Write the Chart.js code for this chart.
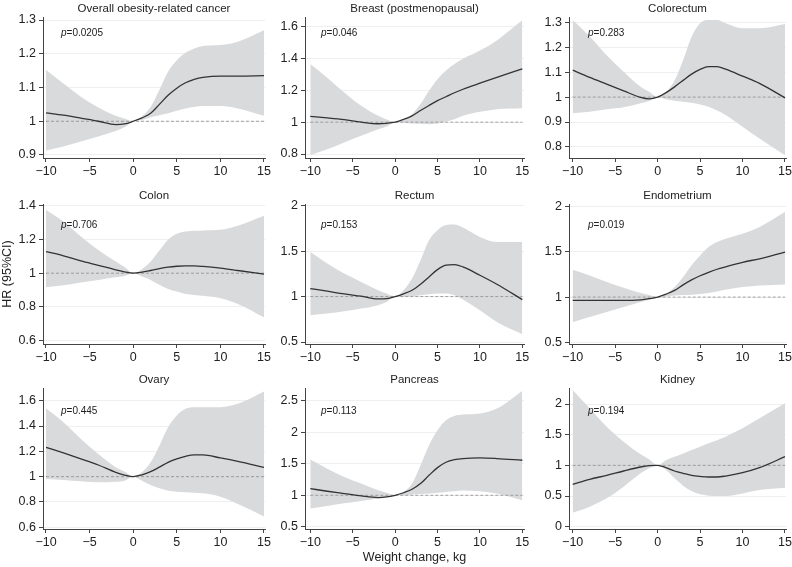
<!DOCTYPE html>
<html>
<head>
<meta charset="utf-8">
<script src="https://cdn.jsdelivr.net/npm/chart.js@4.4.1/dist/chart.umd.min.js"></script>
<style>
  body { margin: 0; background: #fff; width: 792px; height: 567px; position: relative; overflow: hidden; }
  canvas { position: absolute; }
</style>
</head>
<body>
<script>
// x values (weight change, kg) shared by every panel
const weightChange = [-10, -8, -6, -4, -2, -1, 0, 1, 2, 3, 4, 5, 6, 7, 8, 10, 12, 15];
const xTickValues = [-10, -5, 0, 5, 10, 15];

const cancerSites = ['Overall obesity-related cancer', 'Breast (postmenopausal)', 'Colorectum',
  'Colon', 'Rectum', 'Endometrium', 'Ovary', 'Pancreas', 'Kidney'];
const pValues = ['0.0205', '0.046', '0.283', '0.706', '0.153', '0.019', '0.445', '0.113', '0.194'];
const yTickValues = [
  [0.9, 1, 1.1, 1.2, 1.3], [0.8, 1, 1.2, 1.4, 1.6], [0.8, 0.9, 1, 1.1, 1.2, 1.3],
  [0.6, 0.8, 1, 1.2, 1.4], [0.5, 1, 1.5, 2], [0.5, 1, 1.5, 2],
  [0.6, 0.8, 1, 1.2, 1.4, 1.6], [0.5, 1, 1.5, 2, 2.5], [0, 0.5, 1, 1.5, 2]
];

// HR and 95% CI per site
const overallHR    = [1.025, 1.018, 1.009, 1.0, 0.99, 0.992, 1.0, 1.01, 1.024, 1.05, 1.077, 1.098, 1.114, 1.124, 1.13, 1.134, 1.134, 1.135];
const overallLower = [0.913, 0.925, 0.94, 0.955, 0.971, 0.982, 1.0, 1.004, 1.012, 1.018, 1.024, 1.031, 1.038, 1.042, 1.045, 1.045, 1.038, 1.016];
const overallUpper = [1.152, 1.112, 1.073, 1.041, 1.016, 1.008, 1.0, 1.014, 1.043, 1.093, 1.147, 1.181, 1.203, 1.216, 1.223, 1.226, 1.236, 1.27];

const breastHR    = [1.036, 1.027, 1.016, 1.0, 0.99, 0.993, 1.0, 1.017, 1.04, 1.073, 1.105, 1.135, 1.16, 1.185, 1.207, 1.245, 1.282, 1.335];
const breastLower = [0.794, 0.83, 0.872, 0.914, 0.956, 0.973, 1.0, 0.997, 0.992, 0.99, 0.987, 0.992, 1.004, 1.019, 1.04, 1.065, 1.082, 1.088];
const breastUpper = [1.366, 1.28, 1.187, 1.103, 1.04, 1.017, 1.0, 1.013, 1.05, 1.114, 1.198, 1.27, 1.324, 1.366, 1.398, 1.45, 1.514, 1.64];

const colorectumHR    = [1.108, 1.079, 1.052, 1.025, 0.999, 0.993, 1.0, 1.018, 1.041, 1.067, 1.092, 1.111, 1.122, 1.122, 1.112, 1.084, 1.055, 0.997];
const colorectumLower = [0.935, 0.941, 0.951, 0.959, 0.975, 0.984, 1.0, 0.991, 0.985, 0.981, 0.977, 0.97, 0.961, 0.946, 0.928, 0.881, 0.834, 0.767];
const colorectumUpper = [1.309, 1.243, 1.168, 1.102, 1.041, 1.021, 1.0, 1.021, 1.068, 1.148, 1.242, 1.296, 1.309, 1.309, 1.296, 1.276, 1.276, 1.293];

const colonHR    = [1.128, 1.103, 1.073, 1.047, 1.02, 1.008, 1.0, 1.006, 1.016, 1.027, 1.036, 1.041, 1.043, 1.043, 1.04, 1.03, 1.016, 0.994];
const colonLower = [0.917, 0.929, 0.945, 0.96, 0.976, 0.984, 1.0, 0.98, 0.96, 0.931, 0.907, 0.891, 0.877, 0.871, 0.866, 0.852, 0.818, 0.739];
const colonUpper = [1.375, 1.306, 1.217, 1.138, 1.069, 1.036, 1.0, 1.024, 1.069, 1.134, 1.198, 1.233, 1.247, 1.251, 1.253, 1.257, 1.281, 1.34];

const rectumHR    = [1.088, 1.059, 1.029, 1.004, 0.974, 0.978, 1.0, 1.03, 1.07, 1.136, 1.216, 1.297, 1.345, 1.352, 1.326, 1.235, 1.136, 0.967];
const rectumLower = [0.795, 0.813, 0.839, 0.868, 0.905, 0.941, 1.0, 0.996, 1.004, 1.015, 1.026, 1.033, 1.033, 1.015, 0.967, 0.85, 0.721, 0.586];
const rectumUpper = [1.49, 1.363, 1.253, 1.161, 1.07, 1.033, 1.0, 1.07, 1.198, 1.4, 1.62, 1.73, 1.787, 1.792, 1.76, 1.656, 1.601, 1.601];

const endometriumHR    = [0.963, 0.963, 0.963, 0.963, 0.97, 0.982, 1.0, 1.033, 1.074, 1.135, 1.19, 1.236, 1.274, 1.308, 1.335, 1.385, 1.424, 1.498];
const endometriumLower = [0.723, 0.779, 0.834, 0.889, 0.945, 0.97, 1.0, 1.007, 1.018, 1.022, 1.026, 1.035, 1.044, 1.062, 1.081, 1.111, 1.129, 1.14];
const endometriumUpper = [1.303, 1.24, 1.166, 1.103, 1.044, 1.022, 1.0, 1.037, 1.111, 1.221, 1.351, 1.461, 1.554, 1.609, 1.646, 1.701, 1.775, 1.941];

const ovaryHR    = [1.232, 1.187, 1.14, 1.092, 1.034, 1.013, 1.0, 1.015, 1.04, 1.075, 1.113, 1.14, 1.161, 1.172, 1.172, 1.148, 1.121, 1.074];
const ovaryLower = [0.982, 0.974, 0.963, 0.955, 0.96, 0.968, 1.0, 0.968, 0.934, 0.908, 0.889, 0.881, 0.876, 0.872, 0.868, 0.842, 0.784, 0.686];
const ovaryUpper = [1.541, 1.43, 1.298, 1.179, 1.074, 1.04, 1.0, 1.034, 1.113, 1.245, 1.39, 1.483, 1.536, 1.549, 1.549, 1.549, 1.575, 1.673];

const pancreasHR    = [1.106, 1.064, 1.027, 0.989, 0.963, 0.973, 1.0, 1.04, 1.095, 1.186, 1.318, 1.44, 1.525, 1.566, 1.584, 1.594, 1.584, 1.557];
const pancreasLower = [0.788, 0.83, 0.873, 0.91, 0.947, 0.968, 1.0, 1.0, 1.011, 1.02, 1.027, 1.04, 1.053, 1.064, 1.074, 1.064, 1.027, 0.92];
const pancreasUpper = [1.568, 1.424, 1.292, 1.186, 1.08, 1.042, 1.0, 1.053, 1.186, 1.477, 1.796, 2.034, 2.194, 2.263, 2.284, 2.3, 2.379, 2.66];

const kidneyHR    = [0.69, 0.772, 0.837, 0.908, 0.973, 0.995, 1.0, 0.962, 0.908, 0.87, 0.837, 0.82, 0.81, 0.81, 0.826, 0.88, 0.962, 1.141];
const kidneyLower = [0.228, 0.326, 0.462, 0.652, 0.87, 0.951, 1.0, 0.924, 0.788, 0.668, 0.582, 0.527, 0.505, 0.5, 0.5, 0.543, 0.598, 0.636];
const kidneyUpper = [2.228, 1.929, 1.63, 1.386, 1.179, 1.098, 1.0, 1.087, 1.141, 1.195, 1.25, 1.305, 1.359, 1.41, 1.467, 1.603, 1.766, 2.011];

const hrSeries    = [overallHR, breastHR, colorectumHR, colonHR, rectumHR, endometriumHR, ovaryHR, pancreasHR, kidneyHR];
const lowerSeries = [overallLower, breastLower, colorectumLower, colonLower, rectumLower, endometriumLower, ovaryLower, pancreasLower, kidneyLower];
const upperSeries = [overallUpper, breastUpper, colorectumUpper, colonUpper, rectumUpper, endometriumUpper, ovaryUpper, pancreasUpper, kidneyUpper];

// panel layout (pixels) and axis extents
const colLeft = [43, 305, 569], colRight = [265, 524, 786];
const xMins = [-10.344, -10.625, -10.436], xMaxs = [15.115, 15.2, 15.118];
const pLabelDx = [18, 16, 19];
const rowTop = [17, 204, 388], rowBottom = [158, 344, 529], pLabelY = [33, 225, 411];
const yLimits = [[0.8911, 1.309], [0.7749, 1.661], [0.7559, 1.321], [0.5804, 1.41], [0.478, 2.019],
  [0.481, 2.03], [0.5866, 1.7003], [0.4634, 2.7068], [-0.0375, 2.2608]];

const FONT = '"Liberation Sans", Arial, sans-serif';
const BAND = '#d9dadc';
const INK = '#222';

const fmt = v => (v < 0 ? '\u2212' + Math.abs(v) : String(v));
const toPoints = ys => weightChange.map((x, k) => ({ x: x, y: ys[k] }));

const pLabel = {
  id: 'pLabel',
  afterDatasetsDraw(chart, args, opts) {
    const { ctx, chartArea } = chart;
    ctx.save();
    ctx.fillStyle = INK;
    ctx.textBaseline = 'middle';
    let x = chartArea.left + opts.dx;
    const y = chartArea.top + opts.dy;
    ctx.font = 'italic 10px ' + FONT;
    ctx.fillText('p', x, y);
    x += ctx.measureText('p').width;
    ctx.font = '10px ' + FONT;
    ctx.fillText('=' + opts.value, x, y);
    ctx.restore();
  }
};

cancerSites.forEach((site, i) => {
  const r = Math.floor(i / 3), c = i % 3;
  const L = colLeft[c], R = colRight[c], T = rowTop[r], B = rowBottom[r];
  const canvasLeft = Math.max(0, L - 45);
  const yW = L - canvasLeft;
  const canvasTop = T - 16;
  const xH = i === 7 ? 36 : 26;

  // an empty right axis as wide as the left one keeps the title centred over the plot
  const cv = document.createElement('canvas');
  cv.width = R - canvasLeft + yW;
  cv.height = B - canvasTop + xH;
  cv.style.left = canvasLeft + 'px';
  cv.style.top = canvasTop + 'px';
  document.body.appendChild(cv);

  new Chart(cv, {
    type: 'line',
    data: {
      datasets: [
        { data: toPoints(upperSeries[i]), borderWidth: 0, pointRadius: 0, fill: false, order: 4 },
        { data: toPoints(lowerSeries[i]), borderWidth: 0, pointRadius: 0, fill: '-1', backgroundColor: BAND, order: 3 },
        { data: [{ x: -10, y: 1 }, { x: 15, y: 1 }], borderColor: '#8c8c8c', borderWidth: 0.8,
          borderDash: [3, 2], pointRadius: 0, fill: false, order: 2 },
        { data: toPoints(hrSeries[i]), borderColor: '#333', borderWidth: 1.3, pointRadius: 0, fill: false, order: 1 }
      ]
    },
    options: {
      responsive: false,
      animation: false,
      devicePixelRatio: 1,
      layout: { padding: 0 },
      elements: { line: { cubicInterpolationMode: 'monotone' } },
      plugins: {
        legend: { display: false },
        tooltip: { enabled: false },
        title: {
          display: true, text: site, color: INK,
          font: { family: FONT, size: 11.5, weight: 'normal', lineHeight: '12px' },
          padding: { top: 2, bottom: 2 }
        },
        pLabel: { value: pValues[i], dx: pLabelDx[c], dy: pLabelY[r] - T }
      },
      scales: {
        x: {
          type: 'linear', min: xMins[c], max: xMaxs[c],
          afterBuildTicks: s => { s.ticks = xTickValues.map(v => ({ value: v })); },
          afterFit: s => { s.height = xH; s.paddingLeft = 0; s.paddingRight = 0; },
          grid: { drawOnChartArea: false, tickLength: 4, tickColor: '#444' },
          border: { color: '#444', width: 1 },
          ticks: { color: INK, font: { family: FONT, size: 12.5 }, padding: 2, maxRotation: 0, autoSkip: false, callback: v => fmt(v) },
          title: {
            display: i === 7, text: 'Weight change, kg', color: INK,
            font: { family: FONT, size: 12.5 }, padding: { top: 0, bottom: 0 }
          }
        },
        y: {
          min: yLimits[i][0], max: yLimits[i][1],
          afterBuildTicks: s => { s.ticks = yTickValues[i].map(v => ({ value: v })); },
          afterFit: s => { s.width = yW; s.paddingTop = 0; s.paddingBottom = 0; },
          grid: { color: '#efefef', lineWidth: 1, tickLength: 4, tickColor: '#444' },
          border: { color: '#444', width: 1 },
          ticks: { color: INK, font: { family: FONT, size: 12.5 }, padding: 3, callback: v => fmt(v) },
          title: {
            display: i === 3, text: 'HR (95%CI)', color: INK,
            font: { family: FONT, size: 12.5 }, padding: { top: 0, bottom: 0 }
          }
        },
        yRight: {
          position: 'right', min: 0, max: 1,
          grid: { display: false, drawTicks: false },
          border: { display: false },
          ticks: { display: false },
          afterFit: s => { s.width = yW; s.paddingTop = 0; s.paddingBottom = 0; }
        }
      }
    },
    plugins: [pLabel]
  });
});
</script>
</body>
</html>
